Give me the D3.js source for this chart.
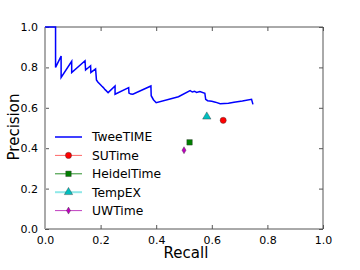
<!DOCTYPE html>
<html>
<head>
<meta charset="utf-8">
<script src="https://cdn.jsdelivr.net/npm/d3@7"></script>
<style>
  body { margin: 0; background: #fff; }
  text { font-family: "DejaVu Sans", sans-serif; fill: #000; }
</style>
</head>
<body>
<div id="chart"></div>
<script>
// TweeTIME precision/recall curve (recall, precision)
var tweetimeRecall = [0, 0.038, 0.038, 0.058, 0.058, 0.096, 0.096, 0.144, 0.146, 0.164, 0.165, 0.182, 0.185, 0.19, 0.197, 0.204, 0.21, 0.216, 0.22, 0.227, 0.252, 0.252, 0.301, 0.302, 0.309, 0.316, 0.381, 0.382, 0.39, 0.40, 0.48, 0.522, 0.53, 0.538, 0.545, 0.557, 0.575, 0.578, 0.585, 0.6, 0.613, 0.63, 0.66, 0.68, 0.71, 0.743, 0.748];
var tweetimePrecision = [1.0, 1.0, 0.80, 0.856, 0.75, 0.83, 0.774, 0.833, 0.787, 0.808, 0.775, 0.792, 0.738, 0.728, 0.718, 0.708, 0.700, 0.690, 0.685, 0.675, 0.708, 0.667, 0.70, 0.673, 0.668, 0.667, 0.708, 0.66, 0.64, 0.625, 0.655, 0.685, 0.678, 0.682, 0.676, 0.680, 0.672, 0.642, 0.635, 0.632, 0.628, 0.620, 0.622, 0.628, 0.634, 0.642, 0.617];

var systems = ["SUTime", "HeidelTime", "TempEX", "UWTime"];
var systemRecall = [0.641, 0.520, 0.582, 0.500];
var systemPrecision = [0.538, 0.429, 0.556, 0.390];
var systemColors = ["#ff0000", "#007f00", "#00bfbf", "#bf00bf"];
var legendLineColors = ["#ff6666", "#2a8f2a", "#8fe8e8", "#c040c0"];
var systemSymbols = [d3.symbolCircle, d3.symbolSquare, d3.symbolTriangle, d3.symbolDiamond];
var symbolSizes = [30, 30, 30, 14];

var ticks = [0, 0.2, 0.4, 0.6, 0.8, 1.0];

var margin = { top: 27, left: 45, right: 37, bottom: 41 },
  width = 360 - margin.left - margin.right,
  height = 270 - margin.top - margin.bottom;

var svg = d3.select("#chart")
  .append("svg")
  .attr("width", 360)
  .attr("height", 270)
  .append("g")
  .attr("transform", "translate(" + margin.left + "," + margin.top + ")");

var x = d3.scaleLinear().domain([0, 1]).range([0, width]);
var y = d3.scaleLinear().domain([0, 1]).range([height, 0]);

// Eixos com ticks para dentro
var xAxis = d3.axisBottom(x).tickValues(ticks).tickSizeInner(-4).tickSizeOuter(0)
  .tickPadding(7).tickFormat(d3.format(".1f"));
var yAxis = d3.axisLeft(y).tickValues(ticks).tickSizeInner(-4).tickSizeOuter(0)
  .tickPadding(7).tickFormat(d3.format(".1f"));

var gx = svg.append("g")
  .attr("transform", "translate(0," + height + ")")
  .call(xAxis);
var gy = svg.append("g").call(yAxis);

[gx, gy].forEach(function(g) {
  g.select(".domain").remove();
  g.selectAll(".tick line").attr("stroke", "#555");
  g.selectAll(".tick text").style("font-size", "11px").style("font-family", "DejaVu Sans");
});

// ticks no topo e na direita
svg.append("g").call(d3.axisTop(x).tickValues(ticks).tickSizeInner(-4).tickSizeOuter(0).tickFormat(""))
  .call(function(g) { g.select(".domain").remove(); g.selectAll("line").attr("stroke", "#555"); });
svg.append("g").attr("transform", "translate(" + width + ",0)")
  .call(d3.axisRight(y).tickValues(ticks).tickSizeInner(-4).tickSizeOuter(0).tickFormat(""))
  .call(function(g) { g.select(".domain").remove(); g.selectAll("line").attr("stroke", "#555"); });

// Bordas
svg.append("line").attr("x1", 0).attr("x2", width).attr("y1", 0).attr("y2", 0)
  .attr("stroke", "#555").attr("stroke-width", 1);
svg.append("line").attr("x1", width).attr("x2", width).attr("y1", 0).attr("y2", height)
  .attr("stroke", "#555").attr("stroke-width", 1);
svg.append("line").attr("x1", 0).attr("x2", width).attr("y1", height).attr("y2", height)
  .attr("stroke", "#555").attr("stroke-width", 1);
svg.append("line").attr("x1", 0).attr("x2", 0).attr("y1", 0).attr("y2", height)
  .attr("stroke", "#aaa").attr("stroke-width", 2);

// Curva TweeTIME
var lineData = tweetimeRecall.map(function(r, i) { return [r, tweetimePrecision[i]]; });
svg.append("path")
  .datum(lineData)
  .attr("fill", "none")
  .attr("stroke", "#0000ff")
  .attr("stroke-width", 1.5)
  .attr("d", d3.line().x(function(d) { return x(d[0]); }).y(function(d) { return y(d[1]); }));

// Pontos dos sistemas
systems.forEach(function(s, i) {
  svg.append("path")
    .attr("d", d3.symbol().type(systemSymbols[i]).size(symbolSizes[i])())
    .attr("transform", "translate(" + x(systemRecall[i]) + "," + y(systemPrecision[i]) + ")")
    .attr("fill", systemColors[i])
    .attr("stroke", "#333")
    .attr("stroke-width", 0.4);
});

// Legenda
var legend = svg.append("g").attr("transform", "translate(10,110)");
var legendNames = ["TweeTIME"].concat(systems);
legendNames.forEach(function(name, i) {
  var g = legend.append("g").attr("transform", "translate(0," + (i * 18.4) + ")");
  g.append("line").attr("x1", 0).attr("x2", 27).attr("y1", 0).attr("y2", 0)
    .attr("stroke", i == 0 ? "#0000ff" : legendLineColors[i - 1])
    .attr("stroke-width", i == 0 ? 1.5 : (i == 3 ? 2 : 1));
  if (i > 0) {
    g.append("path")
      .attr("d", d3.symbol().type(systemSymbols[i - 1]).size(symbolSizes[i - 1])())
      .attr("transform", "translate(13.5,0)")
      .attr("fill", systemColors[i - 1])
      .attr("stroke", "#333")
      .attr("stroke-width", 0.4);
  }
  g.append("text").text(name)
    .attr("x", 37).attr("y", 0).attr("dy", "0.36em")
    .style("font-size", "12.3px");
});

// Títulos
svg.append("text").text("Recall")
  .attr("x", width / 2 + 2).attr("y", height + 29)
  .attr("text-anchor", "middle")
  .style("font-size", "15px");
svg.append("text").text("Precision")
  .attr("transform", "translate(-26," + (height / 2 - 1) + ") rotate(-90)")
  .attr("text-anchor", "middle")
  .style("font-size", "15px");
</script>
</body>
</html>
